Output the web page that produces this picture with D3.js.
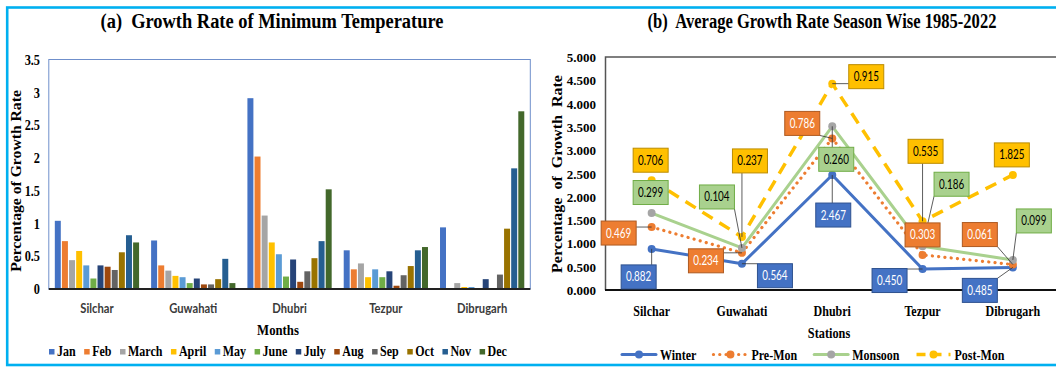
<!DOCTYPE html>
<html>
<head>
<meta charset="utf-8">
<script src="https://cdn.jsdelivr.net/npm/d3@7"></script>
<style>
  body { margin: 0; background: #fff; }
  svg { display: block; }
</style>
</head>
<body>
<svg id="chart" width="1056" height="367"></svg>
<script>
// ---------- data ----------
const stations = ["Silchar", "Guwahati", "Dhubri", "Tezpur", "Dibrugarh"];
const months = ["Jan", "Feb", "March", "April", "May", "June", "July", "Aug", "Sep", "Oct", "Nov", "Dec"];

// monthly growth rate of minimum temperature (%), Jan..Dec
const silchar   = [1.04, 0.73, 0.44, 0.58, 0.36, 0.16, 0.36, 0.34, 0.29, 0.56, 0.82, 0.71];
const guwahati  = [0.74, 0.36, 0.28, 0.20, 0.18, 0.09, 0.16, 0.07, 0.07, 0.15, 0.46, 0.09];
const dhubri    = [2.91, 2.02, 1.12, 0.71, 0.53, 0.19, 0.45, 0.11, 0.27, 0.47, 0.73, 1.52];
const tezpur    = [0.59, 0.30, 0.39, 0.18, 0.30, 0.18, 0.27, 0.05, 0.21, 0.35, 0.59, 0.64];
const dibrugarh = [0.94, 0.00, 0.09, 0.03, 0.03, 0.00, 0.15, 0.00, 0.22, 0.92, 1.84, 2.71];
const monthlyRates = [silchar, guwahati, dhubri, tezpur, dibrugarh];
const leftTicks = [0, 0.5, 1, 1.5, 2, 2.5, 3, 3.5];

// season-wise average growth rate 1985-2022 (%), per station
const seasons = ["Winter", "Pre-Mon", "Monsoon", "Post-Mon"];
const winter  = [0.882, 0.564, 2.467, 0.450, 0.485];
const preMon  = [0.469, 0.234, 0.786, 0.303, 0.061];
const monsoon = [0.299, 0.104, 0.260, 0.186, 0.099];
const postMon = [0.706, 0.237, 0.915, 0.535, 1.825];
const seasonValues = [winter, preMon, monsoon, postMon];
const rightTicks = [0, 0.5, 1, 1.5, 2, 2.5, 3, 3.5, 4, 4.5, 5];

// ---------- styles ----------
const monthColors = ["#4472C4", "#ED7D31", "#A5A5A5", "#FFC000", "#5B9BD5", "#70AD47",
                     "#264478", "#9E480E", "#636363", "#997300", "#255E91", "#43682B"];
const seasonStyle = {
  "Winter":   { line: "#4472C4", marker: "#4472C4", dash: null,      cap: "round", w: 3,   box: "#4472C4", boxStroke: "#2F528F", text: "#ffffff" },
  "Pre-Mon":  { line: "#ED7D31", marker: "#ED7D31", dash: "0.1 6.2", cap: "round", w: 3.2, box: "#ED7D31", boxStroke: "#AE5A21", text: "#ffffff" },
  "Monsoon":  { line: "#A9D18E", marker: "#A5A5A5", dash: null,      cap: "round", w: 3,   box: "#A9D18E", boxStroke: "#70AD47", text: "#000000" },
  "Post-Mon": { line: "#FFC000", marker: "#FFC000", dash: "12 8",    cap: "butt",  w: 3.5, box: "#FFC000", boxStroke: "#BC8C00", text: "#000000" }
};
// data-label box centre, offset in px from its point (one per station)
const labelOffsets = {
  "Winter":   [[-13, 28], [33, 12], [1, 40], [-33, 11.5], [-33, 23]],
  "Pre-Mon":  [[-33, 6], [-36, 8], [-30, -15], [0, -20], [-33, -30]],
  "Monsoon":  [[-1, -20.6], [-25, -51], [4, 33], [29, -62], [21, -39]],
  "Post-Mon": [[-1, -20], [8, -76], [34, -7], [3, -70], [-1, -20]]
};

const SERIF = "'Liberation Serif','Times New Roman',serif";
const SANS = "Lato,'Open Sans',sans-serif";

const svg = d3.select("#chart");

// outer cyan frame
svg.append("rect")
  .attr("x", 7.2).attr("y", 7.5).attr("width", 1060).attr("height", 357.5)
  .attr("fill", "none").attr("stroke", "#00B0F0").attr("stroke-width", 2.6);

// text helper: horizontally condensed text drawn at (x, y);
// with o.len the horizontal scale is chosen so the text spans that width
function txt(g, x, y, s, o) {
  const t = g.append("text")
    .attr("font-family", o.family || SERIF)
    .attr("font-size", o.size)
    .attr("font-weight", o.weight || "bold")
    .attr("text-anchor", o.anchor || "middle")
    .attr("fill", o.fill || "#000")
    .style("white-space", "pre")
    .text(s);
  let sx = o.sx || 1;
  if (o.len) sx = o.len / t.node().getComputedTextLength();
  t.attr("transform", `translate(${x},${y}) rotate(${o.rotate || 0}) scale(${sx},1)`);
  t.sx = sx;
  return t;
}

// ================= (a) grouped bars =================
{
  const g = svg.append("g");
  const x0 = d3.scaleBand().domain(stations).range([48.8, 530.3]).paddingInner(0.125).paddingOuter(0.0625);
  const x1 = d3.scaleBand().domain(months).range([0, x0.bandwidth()]).paddingInner(0.16).paddingOuter(0);
  const y = d3.scaleLinear().domain([0, 3.5]).range([289, 59.5]);

  txt(g, 272, 27.5, "(a)  Growth Rate of Minimum Temperature", { size: 20, len: 343 });

  // plot frame
  g.append("rect").attr("x", 48.8).attr("y", 59.5).attr("width", 530.3 - 48.8).attr("height", 289 - 59.5)
    .attr("fill", "none").attr("stroke", "#6F8FCB").attr("stroke-width", 1);

  const groups = g.selectAll("g.st").data(stations).join("g")
    .attr("transform", d => `translate(${x0(d)},0)`);
  groups.selectAll("rect").data((d, i) => months.map((m, j) => ({ m, v: monthlyRates[i][j], c: monthColors[j] })))
    .join("rect")
    .attr("x", d => x1(d.m)).attr("width", x1.bandwidth())
    .attr("y", d => y(d.v)).attr("height", d => y(0) - y(d.v))
    .attr("fill", d => d.c);

  // x axis line
  g.append("line").attr("x1", 48.8).attr("x2", 530.3).attr("y1", 289).attr("y2", 289)
    .attr("stroke", "#222").attr("stroke-width", 2);

  // y tick labels (condensed serif)
  const yAxis = d3.axisLeft(y).tickValues(leftTicks).tickFormat(d3.format("")).tickSize(0).tickPadding(0);
  const ya = g.append("g").attr("transform", "translate(40,0)").call(yAxis);
  ya.select(".domain").remove();
  ya.selectAll(".tick").attr("transform", d => `translate(0,${y(d)}) scale(0.82,1)`);
  ya.selectAll("text").attr("font-family", SERIF).attr("font-size", 15).attr("font-weight", "bold")
    .attr("fill", "#000").attr("dy", "0.35em");

  txt(g, 21, 181, "Percentage of Growth Rate", { size: 15, rotate: -90, len: 182 });

  // category labels
  stations.forEach(s => txt(g, x0(s) + x0.bandwidth() / 2, 312.5, s,
    { size: 14, family: SANS, sx: 0.8, fill: "#3a3a3a" }));
  txt(g, 278, 334.5, "Months", { size: 15, sx: 0.85 });

  // legend
  let lx = 49;
  months.forEach((m, j) => {
    g.append("rect").attr("x", lx).attr("y", 349).attr("width", 5.5).attr("height", 5.5).attr("fill", monthColors[j]);
    const t = txt(g, lx + 8, 356, m, { size: 15, sx: 0.8, anchor: "start" });
    lx += 8 + t.node().getComputedTextLength() * 0.8 + 8.5;
  });
}

// ================= (b) stacked season lines =================
{
  const g = svg.append("g");
  const x = d3.scalePoint().domain(stations).range([606.5, 1058]).padding(0.5);
  const y = d3.scaleLinear().domain([0, 5]).range([290, 57]);

  txt(g, 822, 27.5, "(b)  Average Growth Rate Season Wise 1985-2022", { size: 20, len: 349 });

  // plot frame
  g.append("path").attr("d", `M1060,57H605.5V290`).attr("fill", "none")
    .attr("stroke", "#555").attr("stroke-width", 1.5);
  g.append("line").attr("x1", 605).attr("x2", 1060).attr("y1", 290).attr("y2", 290)
    .attr("stroke", "#111").attr("stroke-width", 2.2);

  const yAxis = d3.axisLeft(y).tickValues(rightTicks).tickFormat(d3.format(".3f")).tickSize(0).tickPadding(0);
  const ya = g.append("g").attr("transform", "translate(596,0)").call(yAxis);
  ya.select(".domain").remove();
  ya.selectAll("text").attr("font-family", SERIF).attr("font-size", 13).attr("font-weight", "bold")
    .attr("fill", "#000").attr("dy", "0.35em");

  txt(g, 562, 174, "Percentage  of  Growth  Rate", { size: 15, rotate: -90, len: 198 });

  // stacked values
  const rows = stations.map((s, i) => {
    const r = { station: s };
    seasons.forEach((k, j) => r[k] = seasonValues[j][i]);
    return r;
  });
  const stacked = d3.stack().keys(seasons)(rows);

  const line = d3.line().x(d => x(d.data.station)).y(d => y(d[1]));
  stacked.forEach(layer => {
    const st = seasonStyle[layer.key];
    g.append("path").datum(layer).attr("d", line)
      .attr("fill", "none").attr("stroke", st.line).attr("stroke-width", st.w)
      .attr("stroke-linecap", st.cap).attr("stroke-linejoin", "round")
      .attr("stroke-dasharray", st.dash);
  });
  stacked.forEach(layer => {
    const st = seasonStyle[layer.key];
    g.selectAll(null).data(layer).join("circle")
      .attr("cx", d => x(d.data.station)).attr("cy", d => y(d[1])).attr("r", 4)
      .attr("fill", st.marker);
  });

  // data labels with leader lines
  const bw = 35, bh = 24;
  const labels = [];
  stacked.forEach(layer => {
    layer.forEach((d, i) => {
      const px = x(d.data.station), py = y(d[1]);
      const [dx, dy] = labelOffsets[layer.key][i];
      labels.push({ key: layer.key, v: d.data[layer.key], px, py, cx: px + dx, cy: py + dy });
    });
  });
  labels.forEach(l => {
    const ex = Math.max(l.cx - bw / 2, Math.min(l.px, l.cx + bw / 2));
    const ey = Math.max(l.cy - bh / 2, Math.min(l.py, l.cy + bh / 2));
    if (Math.hypot(ex - l.px, ey - l.py) > 10) {
      g.append("line").attr("x1", ex).attr("y1", ey).attr("x2", l.px).attr("y2", l.py)
        .attr("stroke", "#333").attr("stroke-width", 0.8);
    }
  });
  labels.forEach(l => {
    const st = seasonStyle[l.key];
    g.append("rect").attr("x", l.cx - bw / 2).attr("y", l.cy - bh / 2).attr("width", bw).attr("height", bh)
      .attr("fill", st.box).attr("stroke", st.boxStroke).attr("stroke-width", 1);
    txt(g, l.cx, l.cy + 4.5, d3.format(".3f")(l.v),
      { size: 13, family: SANS, weight: "normal", sx: 0.76, fill: st.text });
  });

  // category labels
  stations.forEach(s => txt(g, x(s), 316, s, { size: 15, sx: 0.8 }));
  txt(g, 829, 338, "Stations", { size: 15, sx: 0.82 });

  // legend
  let lx = 622;
  seasons.forEach(k => {
    const st = seasonStyle[k];
    g.append("line").attr("x1", lx).attr("x2", lx + 34).attr("y1", 354.5).attr("y2", 354.5)
      .attr("stroke", st.line).attr("stroke-width", st.w).attr("stroke-linecap", st.cap)
      .attr("stroke-dasharray", k === "Post-Mon" ? "9 7" : st.dash);
    g.append("circle").attr("cx", lx + 17).attr("cy", 354.5).attr("r", 4).attr("fill", st.marker);
    const t = txt(g, lx + 38, 360, k, { size: 15, sx: 0.8, anchor: "start" });
    lx += 38 + t.node().getComputedTextLength() * 0.8 + 17;
  });
}
</script>
</body>
</html>
